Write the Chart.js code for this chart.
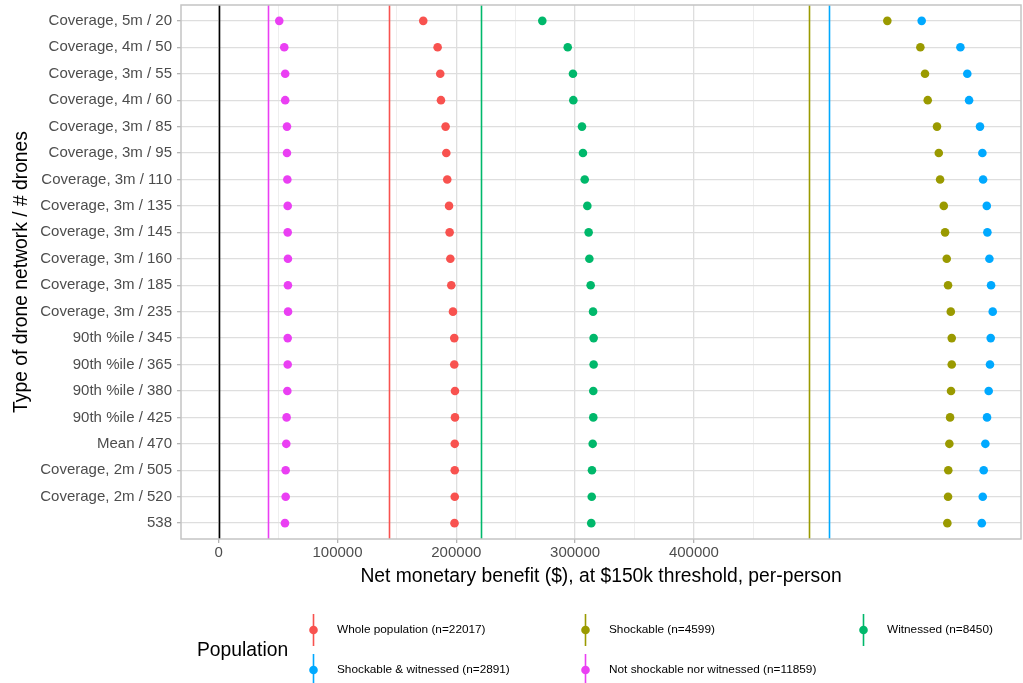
<!DOCTYPE html>
<html>
<head>
<meta charset="utf-8">
<script src="https://cdn.jsdelivr.net/npm/chart.js@4"></script>
<style>
  body { margin: 0; background: #fff; }
  canvas { display: block; }
</style>
</head>
<body>
<canvas id="myChart" width="1023" height="683"></canvas>
<script>
// drone networks, top to bottom
const networks = ['Coverage, 5m / 20', 'Coverage, 4m / 50', 'Coverage, 3m / 55', 'Coverage, 4m / 60',
    'Coverage, 3m / 85', 'Coverage, 3m / 95', 'Coverage, 3m / 110', 'Coverage, 3m / 135',
    'Coverage, 3m / 145', 'Coverage, 3m / 160', 'Coverage, 3m / 185', 'Coverage, 3m / 235',
    '90th %ile / 345', '90th %ile / 365', '90th %ile / 380', '90th %ile / 425', 'Mean / 470',
    'Coverage, 2m / 505', 'Coverage, 2m / 520', '538'];

const wholePop = [172200, 184300, 186500, 187100, 191000, 191600, 192400, 193900, 194400, 195000,
    195800, 197200, 198300, 198300, 198900, 198900, 198700, 198700, 198700, 198500];
const shockable = [562800, 590600, 594500, 596800, 604600, 606100, 607200, 610300, 611400, 612800,
    613900, 616200, 617000, 617000, 616400, 615600, 615000, 614100, 613900, 613300];
const witnessed = [272400, 293800, 298200, 298500, 305800, 306600, 308100, 310300, 311400, 312000,
    313100, 315100, 315600, 315600, 315300, 315300, 314800, 314200, 314000, 313600];
const shockWit = [591700, 624300, 630100, 631600, 640800, 642800, 643400, 646500, 647000, 648700,
    650100, 651500, 649800, 649200, 648100, 646700, 645300, 643900, 643100, 642300];
const notShockWit = [51000, 55200, 56000, 56000, 57500, 57500, 57800, 58100, 58100, 58300,
    58300, 58400, 58100, 58100, 57800, 57200, 56900, 56400, 56400, 55800];

// reference lines (current system per population), plus zero line
const popLabels = ['Whole population (n=22017)', 'Shockable (n=4599)', 'Witnessed (n=8450)',
    'Shockable & witnessed (n=2891)', 'Not shockable nor witnessed (n=11859)'];
const popColors = ['#F8524F', '#9A9A00', '#00B86B', '#00A9FF', '#EA3FF3'];
const popMeans = [143400, 497100, 220500, 513400, 41250];
const zeroLine = 0;

const xMajor = [0, 100000, 200000, 300000, 400000];
const xMinor = [50000, 150000, 250000, 350000, 450000];

const FONT = '"Liberation Sans", Arial, sans-serif';

// points shouldn't push the plot panel in from the edge
if (Chart.ScatterController) {
    Chart.ScatterController.prototype.getMaxOverflow = function () { return 0; };
}

function toPoints(arr) {
    return arr.map(function (v, i) { return { x: v, y: i }; });
}

const seriesList = [wholePop, shockable, witnessed, shockWit, notShockWit];
const datasets = seriesList.map(function (s, k) {
    return {
        label: popLabels[k],
        data: toPoints(s),
        backgroundColor: popColors[k],
        borderWidth: 0,
        pointRadius: 4.3,
        pointHoverRadius: 4.3
    };
});

// vertical mean lines + panel border
const refLines = {
    id: 'refLines',
    beforeDatasetsDraw(chart) {
        const c = chart.ctx, a = chart.chartArea, xs = chart.scales.x;
        c.save();
        c.lineWidth = 1.6;
        const all = [zeroLine].concat(popMeans);
        const cols = ['#000000'].concat(popColors);
        all.forEach(function (v, i) {
            const px = Math.round(xs.getPixelForValue(v)) + 0.5;
            c.strokeStyle = cols[i];
            c.beginPath();
            c.moveTo(px, a.top);
            c.lineTo(px, a.bottom);
            c.stroke();
        });
        c.restore();
    },
    afterDraw(chart) {
        const c = chart.ctx, a = chart.chartArea;
        c.save();
        c.strokeStyle = '#c4c4c4';
        c.lineWidth = 1.5;
        c.strokeRect(a.left, a.top, a.right - a.left, a.bottom - a.top);
        c.restore();
    }
};

// ggplot-style legend below the plot
const bottomLegend = {
    id: 'bottomLegend',
    afterDraw(chart) {
        const c = chart.ctx;
        c.save();
        c.fillStyle = '#000';
        c.font = '19.3px ' + FONT;
        c.textBaseline = 'middle';
        c.textAlign = 'left';
        c.fillText('Population', 197, 651);
        const colX = [313, 585, 863];
        const rowY = [630, 670];
        c.font = '11.8px ' + FONT;
        popLabels.forEach(function (lab, i) {
            const x = colX[i % 3], y = rowY[Math.floor(i / 3)];
            c.strokeStyle = popColors[i];
            c.lineWidth = 1.6;
            c.beginPath();
            c.moveTo(x + 0.5, y - 16);
            c.lineTo(x + 0.5, y + 16);
            c.stroke();
            c.fillStyle = popColors[i];
            c.beginPath();
            c.arc(x + 0.5, y, 4.3, 0, Math.PI * 2);
            c.fill();
            c.fillStyle = '#000';
            c.fillText(lab, x + 24, y);
        });
        c.restore();
    }
};

const ctx = document.getElementById('myChart').getContext('2d');
const myChart = new Chart(ctx, {
    type: 'scatter',
    data: { datasets: datasets },
    options: {
        responsive: false,
        animation: false,
        layout: { padding: { top: 5, right: 2, bottom: 95, left: 5 } },
        plugins: {
            legend: { display: false },
            tooltip: { enabled: false }
        },
        scales: {
            x: {
                type: 'linear',
                min: -31700,
                max: 675300,
                afterBuildTicks: function (scale) {
                    scale.ticks = xMajor.concat(xMinor).sort(function (a, b) { return a - b; })
                        .map(function (v) { return { value: v }; });
                },
                afterFit: function (scale) {
                    scale.height = 49;
                    scale.paddingLeft = 0;
                    scale.paddingRight = 0;
                },
                ticks: {
                    autoSkip: false,
                    maxRotation: 0,
                    padding: 1,
                    color: '#4d4d4d',
                    font: { family: FONT, size: 15 },
                    callback: function (v) { return xMajor.indexOf(v) >= 0 ? String(v) : ''; }
                },
                grid: {
                    color: function (c) { return xMajor.indexOf(c.tick.value) >= 0 ? '#dedede' : '#ececec'; },
                    lineWidth: function (c) { return xMajor.indexOf(c.tick.value) >= 0 ? 1.3 : 0.9; },
                    tickColor: function (c) { return xMajor.indexOf(c.tick.value) >= 0 ? '#b3b3b3' : 'rgba(0,0,0,0)'; },
                    tickLength: 4
                },
                border: { display: false },
                title: {
                    display: true,
                    text: 'Net monetary benefit ($), at $150k threshold, per-person',
                    color: '#000',
                    font: { family: FONT, size: 19.3 },
                    padding: 0
                }
            },
            y: {
                type: 'linear',
                reverse: true,
                min: -0.6,
                max: networks.length - 0.4,
                afterBuildTicks: function (scale) {
                    scale.ticks = networks.map(function (_, i) { return { value: i }; });
                },
                afterFit: function (scale) {
                    scale.width = 176;
                    scale.paddingTop = 0;
                    scale.paddingBottom = 0;
                },
                ticks: {
                    autoSkip: false,
                    padding: 5,
                    color: '#4d4d4d',
                    font: { family: FONT, size: 15 },
                    callback: function (v) { return networks[v]; }
                },
                grid: {
                    color: '#dedede',
                    lineWidth: 1.3,
                    tickColor: '#b3b3b3',
                    tickLength: 4
                },
                border: { display: false },
                title: {
                    display: true,
                    text: 'Type of drone network / # drones',
                    color: '#000',
                    font: { family: FONT, size: 19.3 },
                    padding: { top: 5, bottom: 0 }
                }
            }
        }
    },
    plugins: [refLines, bottomLegend]
});
</script>
</body>
</html>
